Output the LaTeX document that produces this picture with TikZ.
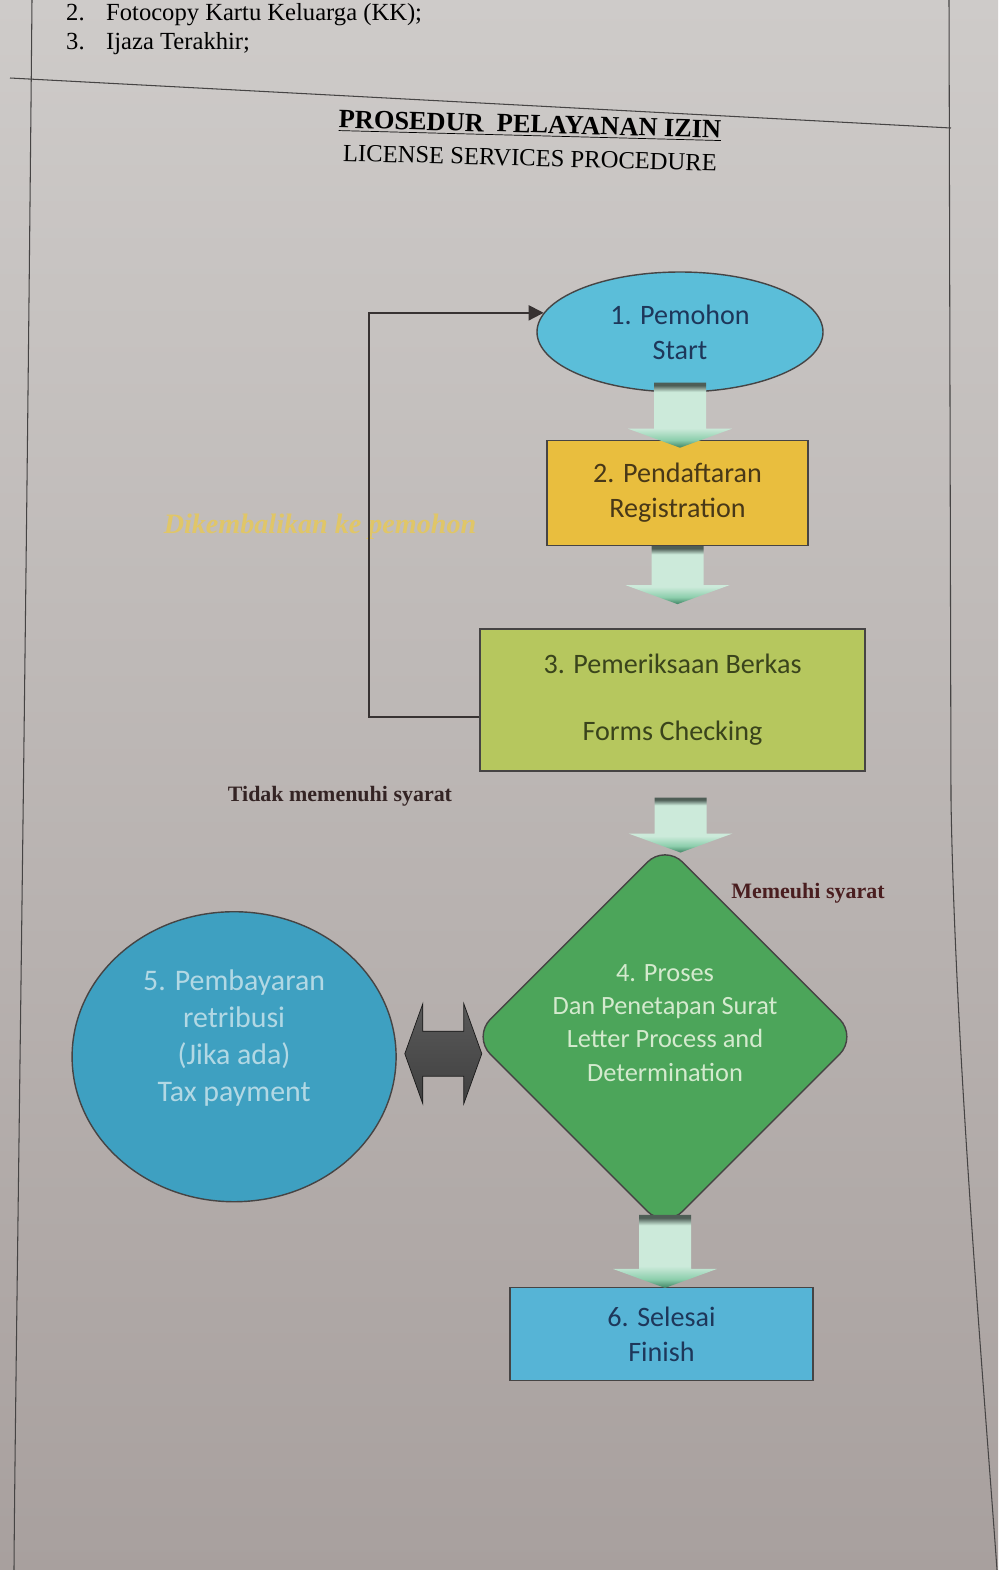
\documentclass[tikz,border=0pt]{standalone}
\usepackage{fontspec}
\setmainfont{Liberation Serif}
\newfontfamily\carlito{Carlito}
\usepackage{tikz}
\usetikzlibrary{
  arrows.meta,
  calc,
  positioning,
  shapes.geometric,
}
\definecolor{pagetop}{RGB}{206,203,201}
\definecolor{pagebot}{RGB}{168,160,158}
\definecolor{framegray}{RGB}{70,68,68}
\definecolor{linegray}{RGB}{55,50,50}
\definecolor{startblue}{RGB}{91,190,217}
\definecolor{reggold}{RGB}{233,190,62}
\definecolor{checkgreen}{RGB}{182,199,94}
\definecolor{procgreen}{RGB}{76,165,90}
\definecolor{payblue}{RGB}{62,160,193}
\definecolor{doneblue}{RGB}{86,180,214}
\definecolor{navytext}{RGB}{30,55,90}
\definecolor{browntext}{RGB}{72,56,24}
\definecolor{olivetext}{RGB}{58,68,28}
\definecolor{palegreen}{RGB}{212,234,206}
\definecolor{palecyan}{RGB}{178,216,228}
\definecolor{backgold}{RGB}{224,198,104}
\definecolor{condbrown}{RGB}{52,36,36}
\definecolor{condmaroon}{RGB}{74,30,32}
\definecolor{fattop}{RGB}{78,94,86}
\definecolor{fatmid}{RGB}{204,234,218}
\definecolor{fathead}{RGB}{140,206,172}
\definecolor{fattip}{RGB}{64,132,100}
\pgfdeclareverticalshading{fatshade}{100bp}{color(0bp)=(fattip); color(25bp)=(fattip); color(31bp)=(fathead); color(40bp)=(fatmid); color(68bp)=(fatmid); color(73bp)=(fattop); color(100bp)=(fattop)}
\tikzstyle{flow} = [
  draw=framegray,
  line width=0.8pt,
  align=center,
  inner sep=0pt,
  font=\carlito\fontsize{16}{20}\selectfont,
]
\tikzstyle{back} = [
  -{Triangle[length=3mm,width=3mm]},
  line width=1.1pt,
  draw=linegray,
]
\tikzstyle{fat} = [shading=fatshade]
\tikzstyle{swap} = [top color=black!65, middle color=black!95, bottom color=black!75, draw=black!90, line width=0.4pt]
\tikzstyle{cond} = [font=\bfseries\fontsize{12.5}{15}\selectfont]
\tikzstyle{frame} = [draw=framegray, line width=0.6pt]
\newcommand{\fatdown}[2]{%
  \shade[fat] ($(#1)+(-0.52,0)$) -- ($(#2)+(-0.52,0.38)$) -- ($(#2)+(-1.04,0.38)$) -- (#2)
    -- ($(#2)+(1.04,0.38)$) -- ($(#2)+(0.52,0.38)$) -- ($(#1)+(0.52,0)$) -- cycle;}

\begin{document}
\begin{tikzpicture}
			\clip (0,0) rectangle (19.96,-31.4);
			\shade[top color=pagetop, bottom color=pagebot] (0,0) rectangle (19.96,-31.4);

			% page frame
			\draw[frame] (0.64,0) .. controls (0.5,-15) and (0.3,-28) .. (0.28,-31.4);
			\draw[frame] (18.98,0) -- (19.02,-16) .. controls (19.1,-21) and (19.7,-28) .. (19.94,-31.4);
			\draw[frame] (0.2,-1.56) -- (19.02,-2.56);

			\node[anchor=base west,font=\fontsize{14}{16}\selectfont] (item2) at (1.2,-0.4) {\makebox[0.8cm][l]{2.}Fotocopy Kartu Keluarga (KK);};
			\node[anchor=base west,font=\fontsize{14}{16}\selectfont] (item3) at (1.2,-0.98) {\makebox[0.8cm][l]{3.}Ijaza Terakhir;};

			\node[font=\bfseries\fontsize{15}{18}\selectfont,rotate=-1.5] (title) at (10.6,-2.52) {\underline{PROSEDUR\ \ PELAYANAN IZIN}};
			\node[font=\fontsize{14}{16}\selectfont,rotate=-1.5] (subtitle) at (10.6,-3.16) {LICENSE SERVICES PROCEDURE};

			\node[flow,ellipse,fill=startblue,text=navytext,minimum width=5.72cm,minimum height=2.4cm] (start) at (13.6,-6.64) {1. Pemohon\\Start};
			\node[flow,rectangle,fill=reggold,text=browntext,minimum width=5.22cm,minimum height=2.1cm,xshift=-0.05cm] (reg) [below=0.94cm of start] {2. Pendaftaran\\Registration};
			\node[flow,rectangle,fill=checkgreen,text=olivetext,minimum width=7.7cm,minimum height=2.84cm,xshift=-0.1cm] (check) [below=1.64cm of reg] {3. Pemeriksaan Berkas\\[0.64cm]Forms Checking};
			\node[flow,diamond,aspect=1,rounded corners=0.5cm,fill=procgreen,minimum width=7.7cm,minimum height=7.7cm,xshift=-0.15cm] (proc) [below=1.44cm of check] {};
			\node[align=center,text=palegreen,font=\carlito\fontsize{15}{19}\selectfont] (proctext) at ([yshift=0.28cm]proc.center) {4. Proses\\Dan Penetapan Surat\\Letter Process and\\Determination};
			\node[flow,ellipse,fill=payblue,minimum width=6.48cm,minimum height=5.8cm,yshift=-0.4cm] (pay) [left=1.5cm of proc] {};
			\node[align=center,text=palecyan,font=\carlito\fontsize{17}{21}\selectfont] (paytext) at ([yshift=0.38cm]pay.center) {5. Pembayaran\\retribusi\\(Jika ada)\\Tax payment};
			\node[flow,rectangle,fill=doneblue,text=navytext,minimum width=6.06cm,minimum height=1.86cm,xshift=-0.07cm] (done) [below=1.14cm of proc] {6. Selesai\\Finish};

			\coordinate (a1) at ($(start.south)+(0,0.2)$);
			\coordinate (a2) at ($(a1 |- reg.north)+(0,-0.16)$);
			\coordinate (b1) at (reg.south);
			\coordinate (b2) at ($(b1 |- check.north)+(0,0.48)$);
			\coordinate (c1) at ($(check.south)+(0.16,-0.52)$);
			\coordinate (c2) at ($(c1 |- proc.north)+(0,-0.18)$);
			\coordinate (d1) at ($(proc.south)+(0,0.3)$);
			\coordinate (d2) at ($(d1 |- done.north)+(0,-0.02)$);
			\fatdown{a1}{a2}
			\fatdown{b1}{b2}
			\fatdown{c1}{c2}
			\fatdown{d1}{d2}

			\node[font=\bfseries\itshape\fontsize{16}{19}\selectfont,text=backgold] (backlabel) at (6.4,-10.54) {Dikembalikan ke pemohon};
			\coordinate (loop) at (7.38,0);
			\draw[back] ([yshift=-0.34cm]check.west) -| (loop |- start.172) -- (start.172);

			\node[cond,text=condbrown] (nolabel) at (6.8,-15.92) {Tidak memenuhi syarat};
			\node[cond,text=condmaroon] (yeslabel) at (16.16,-17.86) {Memeuhi syarat};

			\coordinate (s1) at ($(pay.east)+(0.16,0.06)$);
			\coordinate (s2) at ($(s1 -| proc.west)+(0.2,0)$);
			\shade[swap] (s1) -- ($(s1)+(0.36,1.0)$) -- ($(s1)+(0.36,0.45)$) -- ($(s2)+(-0.36,0.45)$) -- ($(s2)+(-0.36,1.0)$) -- (s2)
				-- ($(s2)+(-0.36,-1.0)$) -- ($(s2)+(-0.36,-0.45)$) -- ($(s1)+(0.36,-0.45)$) -- ($(s1)+(0.36,-1.0)$) -- cycle;
		\end{tikzpicture}
\end{document}
